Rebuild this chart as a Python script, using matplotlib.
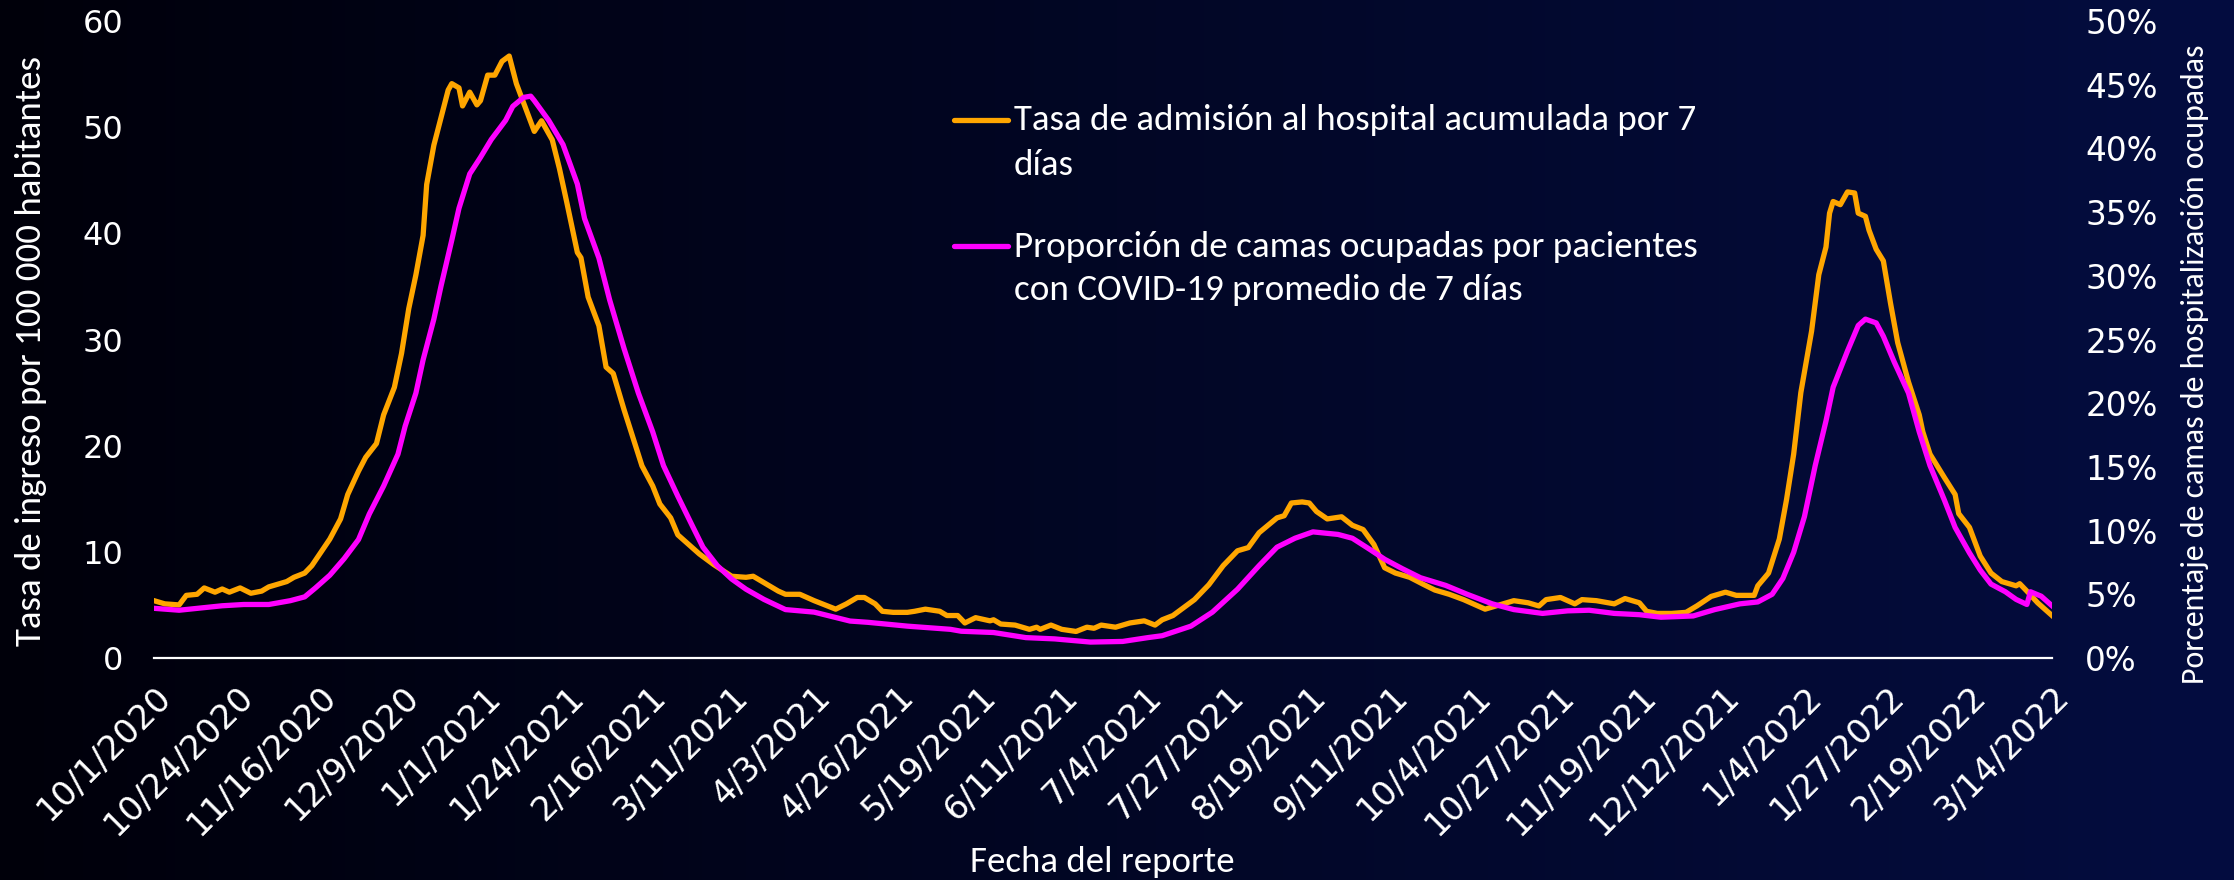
import numpy as np
import matplotlib
matplotlib.use("Agg")
import matplotlib.pyplot as plt
from matplotlib.lines import Line2D
from matplotlib import font_manager as fm
from matplotlib.ticker import FuncFormatter

# ---------------- data ----------------
# days since 10/1/2020
adm_day = [0,3,7,9,12,14,17,19,21,24,27,30,32,37,39,42,44,47,49,52,54,57,59,62,64,67,69,71,73,75,76,78,80,82,83,85,86,88,90,91,93,95,97,99,101,104,106,108,111,113,115,118,119,121,124,126,128,131,134,136,139,141,144,146,148,152,156,161,165,167,170,174,176,180,184,187,190,193,196,198,201,203,206,210,212,215,219,221,224,226,229,233,234,236,240,244,246,247,250,253,257,260,262,264,268,272,276,279,281,284,286,290,294,298,302,305,308,313,315,317,320,322,324,327,331,334,337,340,343,346,350,354,357,361,365,369,371,375,379,383,386,388,392,396,398,402,407,410,414,416,419,423,427,430,434,438,441,446,447,450,453,455,457,459,462,464,466,467,468,470,472,474,475,477,478,480,482,484,486,489,492,493,495,499,502,503,506,509,512,515,519,520,522,525,527,529]
adm_rate = [5.4,5.1,5.0,5.9,6.0,6.6,6.2,6.5,6.2,6.6,6.1,6.3,6.7,7.2,7.6,8.0,8.7,10.2,11.2,13.1,15.4,17.6,18.9,20.2,22.9,25.5,28.7,32.9,36.1,39.8,44.6,48.3,50.9,53.5,54.1,53.7,52.0,53.3,52.1,52.5,54.9,54.9,56.2,56.7,54.1,51.4,49.6,50.6,48.8,46.1,43.0,38.2,37.7,34.0,31.3,27.4,26.8,23.4,20.2,18.1,16.2,14.5,13.2,11.6,11.0,9.8,8.8,7.7,7.6,7.7,7.1,6.3,6.0,6.0,5.4,5.0,4.6,5.1,5.7,5.7,5.1,4.4,4.3,4.3,4.4,4.6,4.4,4.0,4.0,3.3,3.8,3.5,3.6,3.2,3.1,2.7,2.9,2.7,3.1,2.7,2.5,2.9,2.8,3.1,2.9,3.3,3.5,3.1,3.6,4.0,4.5,5.5,6.9,8.7,10.1,10.4,11.8,13.2,13.4,14.6,14.7,14.6,13.8,13.1,13.3,12.5,12.1,10.7,8.5,8.0,7.6,6.9,6.4,6.0,5.5,4.9,4.6,5.0,5.4,5.2,4.9,5.5,5.7,5.1,5.5,5.4,5.1,5.6,5.2,4.4,4.2,4.2,4.3,4.9,5.8,6.2,5.9,5.9,6.8,8.0,11.2,14.9,19.2,25.0,30.8,36.1,38.7,41.9,43.0,42.7,43.9,43.8,41.9,41.6,40.3,38.5,37.4,33.4,29.7,26.0,22.9,21.3,19.2,17.0,15.4,13.6,12.3,9.6,8.0,7.2,6.8,7.0,6.3,5.2,4.6,4.0]

beds_day = [0,7,19,25,32,38,42,45,49,53,57,60,64,68,70,73,75,78,80,83,85,88,91,94,98,100,103,105,106,110,114,118,120,124,127,131,135,139,142,146,150,153,157,161,165,170,176,184,194,199,210,222,225,234,243,251,261,270,277,281,289,295,302,308,313,318,323,330,334,339,343,348,353,360,366,373,379,387,394,400,407,414,420,429,435,442,447,451,454,457,460,463,466,468,472,475,477,480,482,485,489,492,495,499,502,506,509,512,516,519,522,523,526,529]
beds_pct = [3.9,3.75,4.1,4.2,4.2,4.5,4.8,5.5,6.5,7.8,9.3,11.3,13.5,16.0,18.2,20.8,23.4,26.6,29.2,32.8,35.3,38.0,39.3,40.7,42.2,43.3,44.0,44.1,43.75,42.2,40.3,37.2,34.5,31.4,28.1,24.3,20.8,17.75,15.1,12.7,10.4,8.7,7.25,6.2,5.4,4.6,3.8,3.6,2.9,2.8,2.5,2.25,2.1,2.0,1.6,1.5,1.25,1.3,1.6,1.75,2.5,3.6,5.4,7.25,8.7,9.4,9.9,9.7,9.4,8.5,7.75,7.0,6.3,5.7,5.0,4.25,3.8,3.5,3.7,3.75,3.5,3.4,3.2,3.3,3.8,4.25,4.4,5.0,6.25,8.3,11.1,15.1,18.6,21.25,24.1,26.1,26.6,26.3,25.25,23.25,20.8,17.75,15.1,12.4,10.25,8.25,6.9,5.8,5.2,4.6,4.2,5.2,4.85,4.1]

tick_days = list(range(0, 530, 23))
tick_labels = ["10/1/2020", "10/24/2020", "11/16/2020", "12/9/2020", "1/1/2021",
               "1/24/2021", "2/16/2021", "3/11/2021", "4/3/2021", "4/26/2021",
               "5/19/2021", "6/11/2021", "7/4/2021", "7/27/2021", "8/19/2021",
               "9/11/2021", "10/4/2021", "10/27/2021", "11/19/2021", "12/12/2021",
               "1/4/2022", "1/27/2022", "2/19/2022", "3/14/2022"]

left_ticks = [0, 10, 20, 30, 40, 50, 60]
right_ticks = [0, 5, 10, 15, 20, 25, 30, 35, 40, 45, 50]

name_adm = ["Tasa de admisión al hospital acumulada por 7", "días"]
name_beds = ["Proporción de camas ocupadas por pacientes", "con COVID-19 promedio de 7 días"]
ylabel_left = "Tasa de ingreso por 100 000 habitantes"
ylabel_right = "Porcentaje de camas de hospitalización ocupadas"
xlabel = "Fecha del reporte"

ORANGE = "#FFA600"
MAGENTA = "#FF00FF"

# ---------------- fonts ----------------
def pick(fams):
    for f in fams:
        try:
            fm.findfont(fm.FontProperties(family=f), fallback_to_default=False)
            return f
        except Exception:
            pass
    return "DejaVu Sans"

NARROW = pick(["Carlito", "Liberation Sans Narrow", "Lato", "Open Sans"])
TICKF = "DejaVu Sans"

W, H = 2234, 880
fig = plt.figure(figsize=(W / 100, H / 100), dpi=100)

# background gradient
bg = fig.add_axes([0, 0, 1, 1], zorder=-10)
c0 = np.array([0, 0, 10]) / 255.0
c1 = np.array([4, 13, 64]) / 255.0
t = np.linspace(0, 1, 512)[None, :, None]
grad = c0 + (c1 - c0) * t
grad = np.repeat(grad, 2, axis=0)
bg.imshow(grad, aspect="auto", extent=[0, 1, 0, 1], origin="lower")
bg.axis("off")

L, R, T, B = 154, 2052, 21, 658
ax = fig.add_axes([L / W, 1 - B / H, (R - L) / W, (B - T) / H])
ax.set_facecolor("none")
ax2 = ax.twinx()
ax2.set_facecolor("none")

ax.plot(adm_day, adm_rate, color=ORANGE, lw=3.8, solid_joinstyle="round", zorder=3)
ax2.plot(beds_day, beds_pct, color=MAGENTA, lw=3.8, solid_joinstyle="round", zorder=3)

ax.set_xlim(0, 529)
ax.set_ylim(0, 60)
ax2.set_ylim(0, 50)
ax.set_yticks(left_ticks)
ax2.set_yticks(right_ticks)
ax2.yaxis.set_major_formatter(FuncFormatter(lambda v, p: f"{int(v)}%"))
ax.set_xticks(tick_days)
ax.set_xticklabels(tick_labels, rotation=45, ha="right", va="top",
                   rotation_mode="anchor")

for a in (ax, ax2):
    for s in a.spines.values():
        s.set_visible(False)
ax.spines["bottom"].set_visible(True)
ax.spines["bottom"].set_color("white")
ax.spines["bottom"].set_linewidth(1.6)

ax.tick_params(axis="x", length=0, pad=16, colors="white", labelsize=24.5)
ax.tick_params(axis="y", length=0, pad=22, colors="white", labelsize=23)
ax2.tick_params(axis="y", length=0, pad=24, colors="white", labelsize=23.5)
for lab in ax.get_xticklabels() + ax.get_yticklabels() + ax2.get_yticklabels():
    lab.set_fontfamily(TICKF)

renderer = fig.canvas.get_renderer()

def fit(txt, target_px):
    bb = txt.get_window_extent(renderer=renderer)
    w = bb.width if txt.get_rotation() == 0 else bb.height
    txt.set_fontsize(txt.get_fontsize() * target_px / w)

# axis titles
tl = fig.text(31 / W, 1 - 351 / H, ylabel_left, rotation=90, ha="center", va="center",
              color="white", fontsize=24, family=NARROW)
fit(tl, 590)
tr = fig.text(2195 / W, 1 - 364 / H, ylabel_right, rotation=90, ha="center", va="center",
              color="white", fontsize=22, family=NARROW)
fit(tr, 638)
tx = fig.text(1102 / W, 1 - 862 / H, xlabel, ha="center", va="center",
              color="white", fontsize=24, family=NARROW)
fit(tx, 265)

# legend (manual)
x_line0, x_line1, x_text = 954 / W, 1008 / W, 1014 / W
entries = [(ORANGE, 120, name_adm, [130, 175]), (MAGENTA, 246, name_beds, [257, 300])]
for col, yline, lines, bases in entries:
    fig.add_artist(Line2D([x_line0, x_line1], [1 - yline / H, 1 - yline / H],
                          color=col, lw=3.8, solid_capstyle="round",
                          transform=fig.transFigure))
    for i, (s, yb) in enumerate(zip(lines, bases)):
        tt = fig.text(x_text, 1 - yb / H, s, ha="left", va="baseline",
                      color="white", fontsize=24, family=NARROW)
        if i == 0:
            fit(tt, 683)
            fs = tt.get_fontsize()
        else:
            tt.set_fontsize(fs)

fig.savefig("out.png", dpi=100)
